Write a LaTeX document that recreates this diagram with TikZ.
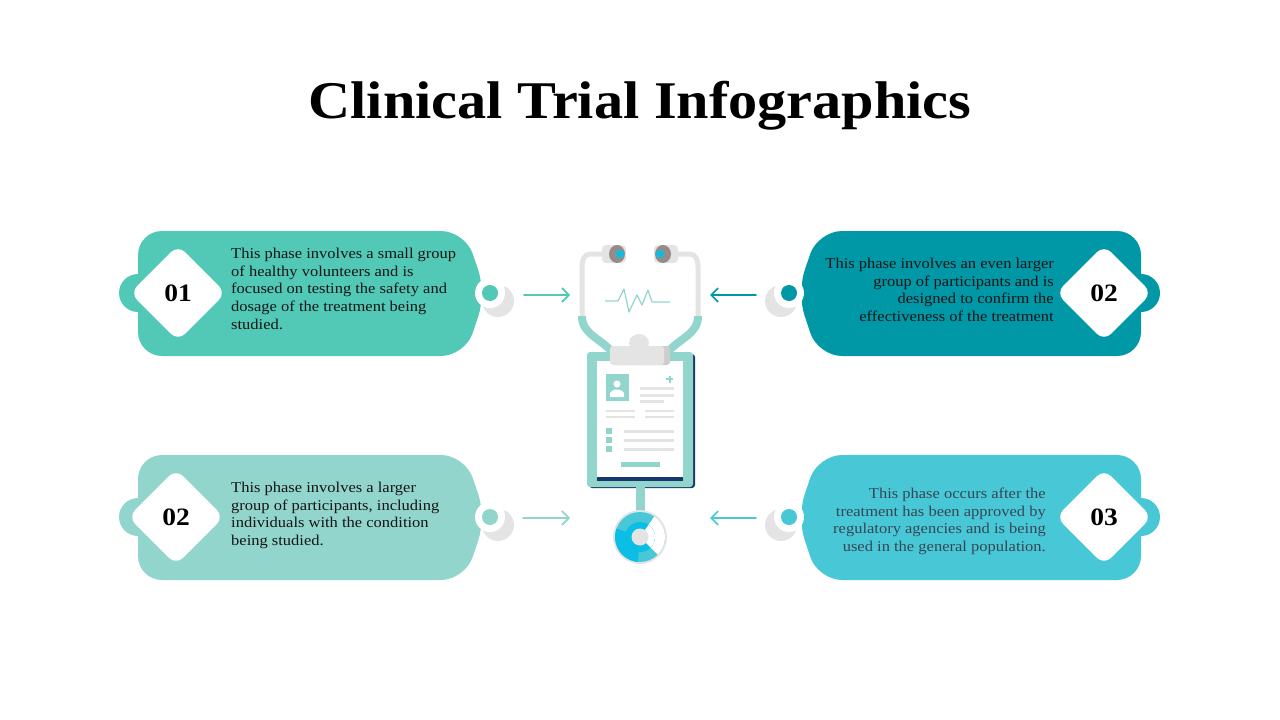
\documentclass[tikz,border=0pt]{standalone}
\usepackage{fontspec}
\setmainfont{Liberation Serif}[FakeStretch=1.1]
\usetikzlibrary{shapes.geometric,arrows.meta}
\definecolor{cA}{RGB}{82,201,183}
\definecolor{cB}{RGB}{0,151,167}
\definecolor{cC}{RGB}{146,213,204}
\definecolor{cD}{RGB}{72,200,214}
\definecolor{gl}{RGB}{228,228,228}
\definecolor{gm}{RGB}{205,205,205}
\definecolor{gd}{RGB}{150,140,135}
\definecolor{sky}{RGB}{10,190,230}
\definecolor{navy}{RGB}{25,55,110}
\definecolor{txt}{RGB}{20,20,20}
\begin{document}
\begin{tikzpicture}[x=1pt,y=-1pt,
  dia/.style={diamond,fill=white,minimum size=96pt,inner sep=0pt,rounded corners=10pt,font=\bfseries\fontsize{25}{25}\selectfont,text=black},
  body/.style={font=\fontsize{15}{17.6}\selectfont,text=txt,inner sep=0pt},
  arr/.style={line width=1.6pt,-{Straight Barb[length=7pt,width=14pt,line width=1.6pt]},line cap=round},
  dot/.style={circle,minimum size=16pt,inner sep=0pt}]
\path[use as bounding box] (0,0) rectangle (1280,720);
\node[font=\bfseries\fontsize{53}{53}\selectfont] (title) at (640,106) {Clinical Trial Infographics};
% card shapes
\foreach \y/\c in {293/cA,517/cC}{
  \fill[\c] (138,\y) circle (19);
  \fill[\c,rounded corners=24pt] (138,\y-62) -- (465,\y-62) -- (486,\y) -- (465,\y+63) -- (138,\y+63) -- cycle;
  \fill[gl] (498,\y+8) circle (16);
  \fill[white] (490,\y) circle (15);
}
\foreach \y/\c in {293/cB,517/cD}{
  \fill[\c] (1141,\y) circle (19);
  \fill[\c,rounded corners=24pt] (1141,\y-62) -- (818,\y-62) -- (797,\y) -- (818,\y+63) -- (1141,\y+63) -- cycle;
  \fill[gl] (781,\y+8) circle (16);
  \fill[white] (789,\y) circle (15);
}
\node[dot,fill=cA] (d1) at (490,293) {};
\node[dot,fill=cC] (d3) at (490,517) {};
\node[dot,fill=cB] (d2) at (789,293) {};
\node[dot,fill=cD] (d4) at (789,517) {};
\node[dia] (n1) at (178,293) {01};
\node[dia] (n3) at (176,517) {02};
\node[dia] (n2) at (1104,293) {02};
\node[dia] (n4) at (1104,517) {03};
\node[body,anchor=north west,align=left] (t1) at (231,248) {This phase involves a small group\\of healthy volunteers and is\\focused on testing the safety and\\dosage of the treatment being\\studied.};
\node[body,anchor=north west,align=left] (t3) at (231,482) {This phase involves a larger\\group of participants, including\\individuals with the condition\\being studied.};
\node[body,anchor=north east,align=right] (t2) at (1054,258) {This phase involves an even larger\\group of participants and is\\designed to confirm the\\effectiveness of the treatment};
\node[body,anchor=north east,align=right,text={rgb,255:red,55;green,70;blue,85}] (t4) at (1046,488) {This phase occurs after the\\treatment has been approved by\\regulatory agencies and is being\\used in the general population.};
% arrows
\coordinate (a1s) at (524,295); \coordinate (a1e) at (570,295);
\coordinate (a3s) at (523,518); \coordinate (a3e) at (570,518);
\coordinate (a2s) at (756,295); \coordinate (a2e) at (710,295);
\coordinate (a4s) at (756,518); \coordinate (a4e) at (710,518);
\draw[arr,cA] (a1s) -- (a1e);
\draw[arr,cC] (a3s) -- (a3e);
\draw[arr,cB] (a2s) -- (a2e);
\draw[arr,cD] (a4s) -- (a4e);
% stethoscope
\draw[gl,line width=5pt,line cap=round] (612,254) -- (590,254) to[out=180,in=90] (582,266) -- (582,318);
\draw[gl,line width=5pt,line cap=round] (667,254) -- (690,254) to[out=0,in=90] (698,266) -- (698,318);
\draw[cC,line width=8pt] (582,316) to[out=-90,in=130] (612,352);
\draw[cC,line width=8pt] (698,316) to[out=-90,in=50] (668,352);
\fill[gl,rounded corners=4pt] (602,245) rectangle (626,263);
\fill[gd] (617,254) ellipse (8 and 9);
\fill[sky] (620,254) circle (4);
\fill[gl,rounded corners=4pt] (654,245) rectangle (678,263);
\fill[gd] (663,254) ellipse (8 and 9);
\fill[sky] (660,254) circle (4);
\draw[cC,line width=1.2pt,line join=round] (605,301) -- (618,301) -- (624,289) -- (629,312) -- (637,295) -- (642,305) -- (648,290) -- (652,302) -- (670,302);
% clipboard
\fill[navy,rounded corners=3pt] (589,354) rectangle (695,488);
\fill[cC,rounded corners=3pt] (587,352) rectangle (693,487);
\fill[white] (597,361) rectangle (683,477);
\fill[navy] (597,477) rectangle (683,481);
\fill[gm,rounded corners=3pt] (612,346) rectangle (670,365);
\fill[gl,rounded corners=3pt] (610,346) rectangle (664,365);
\fill[gl] (639,343) ellipse (10 and 9);
\fill[cC] (606,374) rectangle (629,401);
\fill[white] (617,384) circle (3.5);
\fill[white] (610,397) -- (610,394) arc(180:360:7 and 4.5) -- (624,397) -- cycle;
\fill[cC] (666,378) rectangle (673,380); \fill[cC] (668.5,375.5) rectangle (670.5,382.5);
\fill[gl] (640,387) rectangle (674,390); \fill[gl] (640,394) rectangle (674,397); \fill[gl] (640,400) rectangle (664,403);
\fill[gl] (606,410) rectangle (635,412); \fill[gl] (645,410) rectangle (674,412);
\fill[gl] (606,416) rectangle (635,418); \fill[gl] (645,416) rectangle (674,418);
\foreach \yy in {428,437,446}{\fill[cC] (606,\yy) rectangle (612,\yy+6); \fill[gl] (624,\yy+2) rectangle (674,\yy+4.5);}
\fill[cC] (621,462) rectangle (660,467);
% tube and chestpiece
\fill[cC] (636,487) rectangle (645,514);
\coordinate (cp) at (640,537);
\fill[gl] (cp) circle (27);
\fill[cD] (cp) circle (25);
\fill[sky] (cp) -- ++(95:25) arc(95:200:25) -- cycle;
\fill[white] (cp) -- ++(-55:25) arc(-55:45:25) -- cycle;
\fill[sky] (cp) circle (15);
\fill[white] (cp) -- ++(-55:15) arc(-55:45:15) -- cycle;
\fill[gl] (cp) circle (8.5);
\end{tikzpicture}
\end{document}
